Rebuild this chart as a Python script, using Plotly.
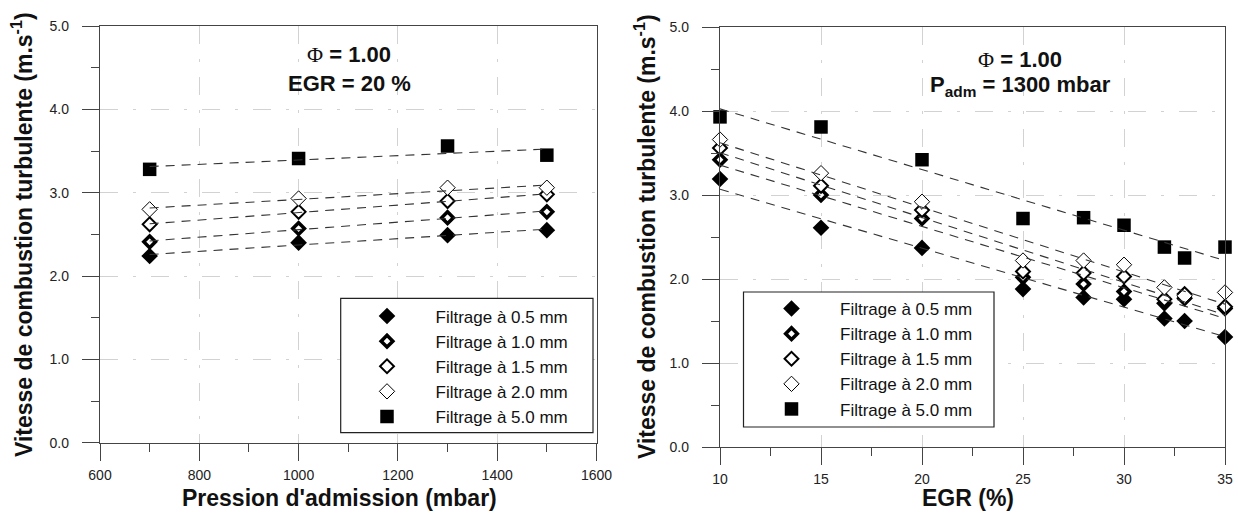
import numpy as np
import plotly.graph_objects as go

# ---------------- data ----------------
series_names = ["Filtrage à 0.5 mm", "Filtrage à 1.0 mm", "Filtrage à 1.5 mm",
                "Filtrage à 2.0 mm", "Filtrage à 5.0 mm"]

# Left panel: EGR = 20 %, x = intake pressure (mbar)
p_adm = [700, 1000, 1300, 1500]
left_05 = [2.24, 2.40, 2.49, 2.55]
left_10 = [2.41, 2.57, 2.70, 2.77]
left_15 = [2.62, 2.77, 2.90, 2.98]
left_20 = [2.80, 2.93, 3.06, 3.06]
left_50 = [3.28, 3.41, 3.56, 3.45]

# Right panel: P_adm = 1300 mbar, x = EGR (%)
egr = [10, 15, 20, 25, 28, 30, 32, 33, 35]
right_05 = [3.19, 2.61, 2.37, 1.88, 1.78, 1.76, 1.53, 1.50, 1.31]
right_10 = [3.42, 3.00, 2.72, 2.02, 1.94, 1.85, 1.71, 1.82, 1.65]
right_15 = [3.56, 3.11, 2.82, 2.09, 2.07, 2.03, 1.76, 1.77, 1.67]
right_20 = [3.66, 3.26, 2.92, 2.22, 2.22, 2.17, 1.90, 1.80, 1.84]
right_50 = [3.93, 3.81, 3.42, 2.72, 2.73, 2.64, 2.38, 2.25, 2.38]

x_ticks_left = [600, 800, 1000, 1200, 1400, 1600]
x_ticks_right = [10, 15, 20, 25, 30, 35]
y_ticks = [0, 1, 2, 3, 4, 5]

# ---------------- layout helpers ----------------
W, H = 1238, 515


def px(x):  # window pixel -> paper x
    return x / W


def py(y):  # window pixel -> paper y
    return 1 - y / H


FONT = "Liberation Sans, Arial, sans-serif"
marker_styles = [
    dict(symbol="diamond", size=12.8, color="black", line=dict(width=0, color="black")),
    dict(symbol="diamond", size=9.0, color="white", line=dict(width=3.5, color="black")),
    dict(symbol="diamond", size=10.7, color="white", line=dict(width=2, color="black")),
    dict(symbol="diamond", size=11.8, color="white", line=dict(width=1, color="black")),
    dict(symbol="square", size=13.5, color="black", line=dict(width=0, color="black")),
]

left_sets = [left_05, left_10, left_15, left_20, left_50]
right_sets = [right_05, right_10, right_15, right_20, right_50]

fig = go.Figure()


def add_panel(xs, sets, xa, ya, legend_name):
    # markers
    for i, (name, ys) in enumerate(zip(series_names, sets)):
        fig.add_trace(go.Scatter(
            x=xs, y=ys, mode="markers", name=name,
            marker=marker_styles[i], xaxis=xa, yaxis=ya,
            legend=legend_name, legendgroup=f"{legend_name}_{i}",
            cliponaxis=False, showlegend=True))
    # linear fit lines
    for i, ys in enumerate(sets):
        k, b = np.polyfit(xs, ys, 1)
        xl = [min(xs), max(xs)]
        fig.add_trace(go.Scatter(
            x=xl, y=[k * v + b for v in xl], mode="lines",
            line=dict(color="#333333", width=1.1, dash="9px,7px"),
            xaxis=xa, yaxis=ya, showlegend=False, hoverinfo="skip",
            cliponaxis=False))


add_panel(p_adm, left_sets, "x", "y", "legend")
add_panel(egr, right_sets, "x2", "y2", "legend2")

axis_common = dict(
    automargin=False,
    showline=True, linecolor="#444444", linewidth=1.3, mirror=True,
    ticks="outside", ticklen=17, tickwidth=1.3, tickcolor="#444444",
    showgrid=True, gridcolor="#d2d2d2", gridwidth=1.3, griddash="18px,15px,3px,15px",
    zeroline=False, tickfont=dict(family=FONT, size=14, color="#222222"),
)
minor_common = dict(ticks="outside", ticklen=8, tickwidth=1.3,
                    tickcolor="#444444", showgrid=False)

legend_common = dict(xanchor="left", yanchor="top",
                     bgcolor="rgba(0,0,0,0)", borderwidth=0,
                     font=dict(family=FONT, size=17, color="#111111"),
                     itemwidth=87, tracegroupgap=0, itemclick=False)

fig.update_layout(
    template="none",
    width=W, height=H, margin=dict(l=0, r=0, t=0, b=0, autoexpand=False),
    paper_bgcolor="white", plot_bgcolor="white",
    xaxis=dict(axis_common, domain=[px(100), px(596.5)], range=[600, 1600],
               tickvals=x_ticks_left, ticklabelstandoff=2,
               minor=dict(minor_common, dtick=100)),
    yaxis=dict(axis_common, domain=[py(442.7), py(26)], range=[0, 5],
               tickvals=y_ticks, tickformat=".1f", ticklabelstandoff=10,
               minor=dict(minor_common, dtick=0.5)),
    xaxis2=dict(axis_common, domain=[px(720), px(1225)], range=[10, 35],
                tickvals=x_ticks_right, ticklabelstandoff=2, anchor="y2",
                minor=dict(minor_common, dtick=2.5)),
    yaxis2=dict(axis_common, domain=[py(447), py(27)], range=[0, 5],
                tickvals=y_ticks, tickformat=".1f", ticklabelstandoff=10, anchor="x2",
                minor=dict(minor_common, dtick=0.5)),
    legend=dict(legend_common, x=px(338.5), y=py(298.5)),
    legend2=dict(legend_common, x=px(743), y=py(291)),
)

# legend frames (white boxes with a thin black border)
for (x0, y0, x1, y1) in [(340.7, 298.3, 593, 432.7), (743.5, 292, 994, 427)]:
    fig.add_shape(type="rect", xref="paper", yref="paper",
                  x0=px(x0), x1=px(x1), y0=py(y1), y1=py(y0),
                  line=dict(color="#222222", width=1.2), fillcolor="white", layer="above")

phi = "<span style='font-family:Liberation Serif;font-weight:normal'>Φ</span>"
title_font = dict(family=FONT, size=23, color="#111111")
ann_font = dict(family=FONT, size=22, color="#111111")
annotations = [
    # axis titles
    dict(text="<b>Pression d'admission (mbar)</b>", x=px(340), y=py(498), font=title_font),
    dict(text="<b>EGR (%)</b>", x=px(968), y=py(498), font=title_font),
    dict(text="<b>Vitesse de combustion turbulente (m.s<sup>-1</sup>)</b>", x=px(22), y=py(235),
         textangle=-90, font=title_font),
    dict(text="<b>Vitesse de combustion turbulente (m.s<sup>-1</sup>)</b>", x=px(645), y=py(237),
         textangle=-90, font=title_font),
    # panel conditions
    dict(text=f"<b>{phi} = 1.00</b>", x=px(349), y=py(68.5), yanchor="bottom", font=ann_font),
    dict(text="<b>EGR = 20 %</b>", x=px(349), y=py(68.5), yanchor="top", font=ann_font),
    dict(text=f"<b>{phi} = 1.00</b>", x=px(1020), y=py(74), yanchor="bottom", font=ann_font),
    dict(text="<b>P<sub>adm</sub> = 1300 mbar</b>", x=px(1020), y=py(70), yanchor="top", font=ann_font),
]
for a in annotations:
    a.setdefault("yanchor", "middle")
    a.update(xref="paper", yref="paper", showarrow=False, xanchor="center")
fig.update_layout(annotations=annotations)

# remove the default page margin so the figure fills the window exactly; no mode bar
fig.write_html("out.html",
               config={"displayModeBar": False},
               post_script="document.body.style.margin='0px';document.body.style.overflow='hidden';")
